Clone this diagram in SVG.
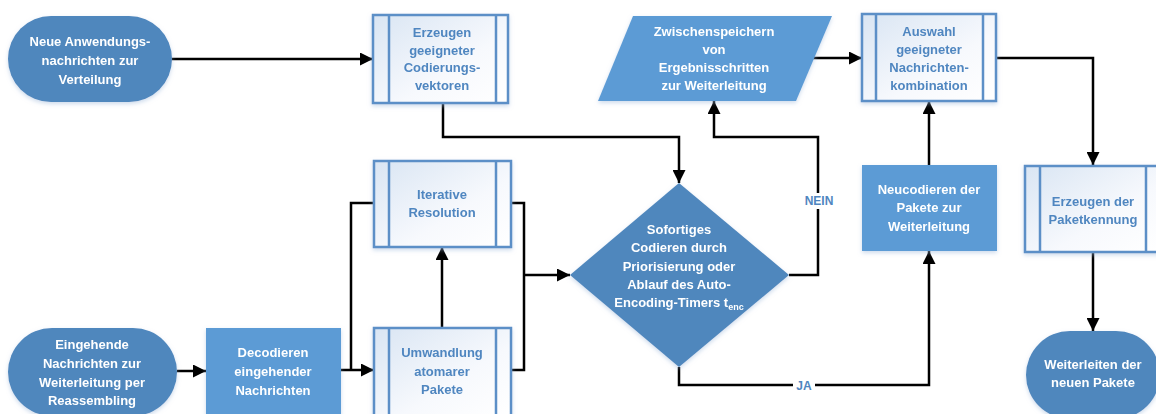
<svg xmlns="http://www.w3.org/2000/svg" width="1156" height="414" viewBox="0 0 1156 414">
  <style>
    .term { fill: #4f87bd; }
    .proc { fill: #5b9bd5; }
    .sub { fill: url(#subFill); stroke: #5b8fc7; stroke-width: 2.5; }
    .subline { stroke: #5b8fc7; stroke-width: 2.5; fill: none; }
    .wt { font-family: "Liberation Sans", Arial, sans-serif; font-weight: bold; font-size: 13px; fill: #ffffff; text-anchor: middle; }
    .bt { font-family: "Liberation Sans", Arial, sans-serif; font-weight: bold; font-size: 13px; fill: #4f86c0; text-anchor: middle; }
    .conn { fill: none; stroke: #000000; stroke-width: 2.5; }
    .arrow { marker-end: url(#head); }
    .lbl { font-family: "Liberation Sans", Arial, sans-serif; font-weight: bold; font-size: 12px; fill: #4f86c0; text-anchor: middle; }
  </style>
  <defs>
    <linearGradient id="subFill" x1="0" y1="0" x2="1" y2="1">
      <stop offset="0" stop-color="#d9e5f3"/>
      <stop offset="0.6" stop-color="#f7f9fd"/>
      <stop offset="1" stop-color="#ffffff"/>
    </linearGradient>
    <filter id="shadow" x="-10%" y="-10%" width="120%" height="130%">
      <feDropShadow dx="0" dy="2" stdDeviation="2" flood-color="#9db8da" flood-opacity="0.5"/>
    </filter>
    <marker id="head" viewBox="0 0 10 10" refX="10" refY="5" markerUnits="userSpaceOnUse" markerWidth="13" markerHeight="13" orient="auto">
      <path d="M0,0 L10,5 L0,10 z" fill="#000000"/>
    </marker>
  </defs>

  <!-- connectors -->
  <g id="connectors">
    <path class="conn arrow" d="M172,59 H373"/>
    <path class="conn arrow" d="M443,103 V137 H679 V183"/>
    <path class="conn arrow" d="M789,275 H818 V137 H714 V101"/>
    <path class="conn arrow" d="M812,58 H862"/>
    <path class="conn arrow" d="M996,58 H1093 V165"/>
    <path class="conn arrow" d="M1093,252 V331"/>
    <path class="conn arrow" d="M929,165 V101"/>
    <path class="conn arrow" d="M679,367 V385 H929 V251"/>
    <path class="conn arrow" d="M177,371 H206"/>
    <path class="conn arrow" d="M341,370 H374"/>
    <path class="conn" d="M374,203 H351 V370"/>
    <path class="conn" d="M511,203 H524 V370 H511"/>
    <path class="conn arrow" d="M524,275 H570"/>
    <path class="conn arrow" d="M442,328 V247"/>
    <rect x="804" y="193" width="30" height="16" fill="#ffffff"/>
    <text class="lbl" x="819" y="205">NEIN</text>
    <rect x="793" y="377" width="22" height="16" fill="#ffffff"/>
    <text class="lbl" x="804" y="390">JA</text>
  </g>

  <!-- start: new application messages -->
  <g id="neue-nachrichten" filter="url(#shadow)">
    <rect class="term" x="8" y="16" width="164" height="86" rx="43"/>
    <text class="wt" x="90" y="46">Neue Anwendungs-</text>
    <text class="wt" x="90" y="65">nachrichten zur</text>
    <text class="wt" x="90" y="84">Verteilung</text>
  </g>

  <!-- start: incoming messages -->
  <g id="eingehende-nachrichten" filter="url(#shadow)">
    <rect class="term" x="8" y="328" width="169" height="88" rx="44"/>
    <text class="wt" x="92" y="349">Eingehende</text>
    <text class="wt" x="92" y="368">Nachrichten zur</text>
    <text class="wt" x="92" y="387">Weiterleitung per</text>
    <text class="wt" x="92" y="405">Reassembling</text>
  </g>

  <g id="codierungsvektoren" filter="url(#shadow)">
    <rect class="sub" x="373" y="15" width="135" height="88"/>
    <path class="subline" d="M389,15 V103 M496,15 V103"/>
    <text class="bt" x="442" y="37">Erzeugen</text>
    <text class="bt" x="442" y="55">geeigneter</text>
    <text class="bt" x="442" y="72">Codierungs-</text>
    <text class="bt" x="442" y="90">vektoren</text>
  </g>

  <g id="decodieren" filter="url(#shadow)">
    <rect class="proc" x="206" y="328" width="135" height="88"/>
    <text class="wt" x="273" y="357">Decodieren</text>
    <text class="wt" x="273" y="376">eingehender</text>
    <text class="wt" x="273" y="395">Nachrichten</text>
  </g>

  <g id="iterative-resolution" filter="url(#shadow)">
    <rect class="sub" x="374" y="161" width="137" height="86"/>
    <path class="subline" d="M389,161 V247 M496,161 V247"/>
    <text class="bt" x="442" y="199">Iterative</text>
    <text class="bt" x="442" y="217">Resolution</text>
  </g>

  <g id="umwandlung" filter="url(#shadow)">
    <rect class="sub" x="374" y="328" width="137" height="88"/>
    <path class="subline" d="M389,328 V416 M496,328 V416"/>
    <text class="bt" x="442" y="357">Umwandlung</text>
    <text class="bt" x="442" y="376">atomarer</text>
    <text class="bt" x="442" y="394">Pakete</text>
  </g>

  <g id="entscheidung" filter="url(#shadow)">
    <polygon class="term" points="679,183 789,275 679,367 570,275"/>
    <text class="wt" x="679" y="234">Sofortiges</text>
    <text class="wt" x="679" y="252">Codieren durch</text>
    <text class="wt" x="679" y="271">Priorisierung oder</text>
    <text class="wt" x="679" y="289">Ablauf des Auto-</text>
    <text class="wt" x="679" y="307">Encoding-Timers t<tspan font-size="9" dy="3">enc</tspan></text>
  </g>

  <g id="zwischenspeichern" filter="url(#shadow)">
    <polygon class="proc" points="633,16 832,16 796,101 598,101"/>
    <text class="wt" x="714" y="36">Zwischenspeichern</text>
    <text class="wt" x="714" y="54">von</text>
    <text class="wt" x="714" y="72">Ergebnisschritten</text>
    <text class="wt" x="714" y="90">zur Weiterleitung</text>
  </g>

  <g id="auswahl" filter="url(#shadow)">
    <rect class="sub" x="862" y="14" width="134" height="87"/>
    <path class="subline" d="M876,14 V101 M983,14 V101"/>
    <text class="bt" x="929" y="36">Auswahl</text>
    <text class="bt" x="929" y="54">geeigneter</text>
    <text class="bt" x="929" y="72">Nachrichten-</text>
    <text class="bt" x="929" y="90">kombination</text>
  </g>

  <g id="neucodieren" filter="url(#shadow)">
    <rect class="proc" x="862" y="165" width="135" height="86"/>
    <text class="wt" x="929" y="194">Neucodieren der</text>
    <text class="wt" x="929" y="212">Pakete zur</text>
    <text class="wt" x="929" y="231">Weiterleitung</text>
  </g>

  <g id="paketkennung" filter="url(#shadow)">
    <rect class="sub" x="1025" y="166" width="136" height="86"/>
    <path class="subline" d="M1040,166 V252 M1146,166 V252"/>
    <text class="bt" x="1093" y="206">Erzeugen der</text>
    <text class="bt" x="1093" y="224">Paketkennung</text>
  </g>

  <g id="weiterleiten" filter="url(#shadow)">
    <rect class="term" x="1026" y="331" width="134" height="88" rx="44"/>
    <text class="wt" x="1093" y="369">Weiterleiten der</text>
    <text class="wt" x="1093" y="387">neuen Pakete</text>
  </g>
</svg>
